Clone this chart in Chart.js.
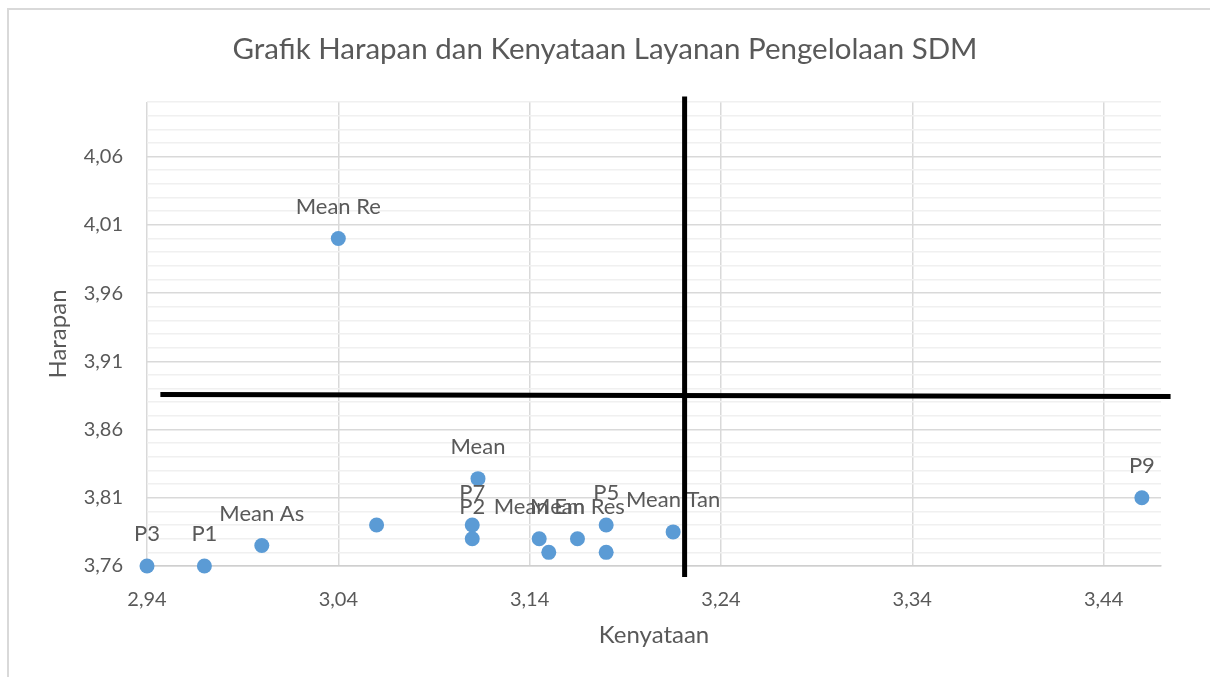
<!DOCTYPE html>
<html>
<head>
<meta charset="utf-8">
<script src="https://cdn.jsdelivr.net/npm/chart.js@4"></script>
<style>
    body { margin: 0; background: #fff; overflow: hidden; }
    #wrap { position: relative; width: 1210px; height: 677px; }
    #frame {
        position: absolute; left: 7px; top: 8px; width: 1400px; height: 900px;
        border: 2px solid #d9d9d9; pointer-events: none;
    }
</style>
</head>
<body>
<div id="wrap">
    <canvas id="myChart" width="1210" height="677"></canvas>
    <div id="frame"></div>
</div>
<script>
// data
const pointLabels = ['P3', 'P1', 'Mean As', '', 'P7', 'P2', 'Mean', 'Mean Em', '', 'Mean Res', 'P5', '', 'Mean Tan', 'P9', 'Mean Re'];
const kenyataan = [2.94, 2.97, 3.00, 3.06, 3.11, 3.11, 3.113, 3.145, 3.15, 3.165, 3.18, 3.18, 3.215, 3.46, 3.04];
const harapan = [3.76, 3.76, 3.775, 3.79, 3.79, 3.78, 3.824, 3.78, 3.77, 3.78, 3.79, 3.77, 3.785, 3.81, 4.00];

const xTicks = [2.94, 3.04, 3.14, 3.24, 3.34, 3.44];
const yTicks = [3.76, 3.81, 3.86, 3.91, 3.96, 4.01, 4.06];

// the two thick black quadrant lines (drawn by hand in the original)
const garisVertikalX = [3.221, 3.221];
const garisVertikalY = [3.752, 4.104];
const garisHorizontalX = [2.947, 3.475];
const garisHorizontalY = [3.8857, 3.8842];

const textColor = '#595959';
const fontName = 'Lato, "Open Sans", sans-serif';

function toPoints(xs, ys) {
    var pts = [];
    for (var i = 0; i < xs.length; i++) {
        pts.push({x: xs[i], y: ys[i]});
    }
    return pts;
}

function fmt(v) {
    return v.toFixed(2).replace('.', ',');
}

function isMajorY(v) {
    return yTicks.some(t => Math.abs(t - v) < 0.0005);
}

const pointLabelPlugin = {
    id: 'pointLabels',
    afterDatasetDraw(chart, args) {
        if (args.index !== 0) return;
        const c = chart.ctx;
        const meta = chart.getDatasetMeta(0);
        c.save();
        c.font = '22px ' + fontName;
        c.fillStyle = textColor;
        c.textAlign = 'center';
        c.textBaseline = 'middle';
        meta.data.forEach((el, i) => {
            if (pointLabels[i]) c.fillText(pointLabels[i], el.x, el.y - 32);
        });
        c.restore();
    }
};

const ctx = document.getElementById('myChart');

new Chart(ctx, {
    type: 'scatter',
    data: {
        datasets: [
            {
                data: toPoints(kenyataan, harapan),
                backgroundColor: '#5b9bd5',
                borderWidth: 0,
                pointRadius: 7.5,
                pointHoverRadius: 7.5,
                clip: false,
                order: 2
            },
            {
                type: 'line',
                data: toPoints(garisVertikalX, garisVertikalY),
                borderColor: '#000',
                borderWidth: 5,
                pointRadius: 0,
                clip: false,
                order: 1
            },
            {
                type: 'line',
                data: toPoints(garisHorizontalX, garisHorizontalY),
                borderColor: '#000',
                borderWidth: 5,
                pointRadius: 0,
                clip: false,
                order: 1
            }
        ]
    },
    options: {
        responsive: false,
        animation: false,
        layout: { padding: 0 },
        plugins: {
            legend: { display: false },
            tooltip: { enabled: false },
            title: {
                display: true,
                text: 'Grafik Harapan dan Kenyataan Layanan Pengelolaan SDM',
                color: textColor,
                font: { family: fontName, size: 29.5, weight: 'normal' },
                padding: { top: 32, bottom: 34.6 }
            }
        },
        scales: {
            x: {
                type: 'linear',
                min: 2.94,
                max: 3.47,
                afterBuildTicks: (scale) => {
                    scale.ticks = xTicks.map(v => ({value: v}));
                },
                afterFit: (scale) => {
                    scale.height = 111;
                    scale.paddingRight = 49;
                },
                ticks: {
                    autoSkip: false,
                    maxRotation: 0,
                    padding: 22,
                    color: textColor,
                    font: { family: fontName, size: 20 },
                    callback: (v) => fmt(v)
                },
                grid: { color: '#d9d9d9', lineWidth: 1.5, drawTicks: false },
                border: { color: '#cfcfcf', width: 1.5 },
                title: {
                    display: true,
                    text: 'Kenyataan',
                    color: textColor,
                    font: { family: fontName, size: 24 },
                    padding: { top: 0, bottom: 27 }
                }
            },
            y: {
                type: 'linear',
                min: 3.76,
                max: 4.10,
                afterBuildTicks: (scale) => {
                    var t = [];
                    for (var i = 0; i <= 34; i++) {
                        t.push({value: Math.round((3.76 + i * 0.01) * 100) / 100});
                    }
                    scale.ticks = t;
                },
                afterFit: (scale) => { scale.width = 147; },
                ticks: {
                    autoSkip: false,
                    padding: 24,
                    color: textColor,
                    font: { family: fontName, size: 20 },
                    callback: (v) => isMajorY(v) ? fmt(v) : ''
                },
                grid: {
                    drawTicks: false,
                    lineWidth: 1.5,
                    color: (c) => isMajorY(c.tick.value) ? '#d9d9d9' : '#f0f0f0'
                },
                border: { display: false },
                title: {
                    display: true,
                    text: 'Harapan',
                    color: textColor,
                    font: { family: fontName, size: 24 },
                    padding: { top: 44, bottom: 0 }
                }
            }
        }
    },
    plugins: [pointLabelPlugin]
});
</script>
</body>
</html>
